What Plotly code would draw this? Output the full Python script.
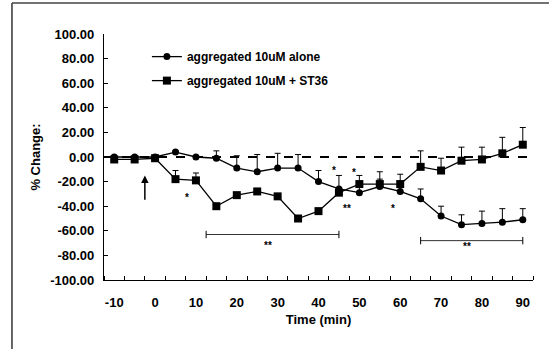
import plotly.graph_objects as go

# Time points (min) and % change for each condition
times = [-10, -5, 0, 5, 10, 15, 20, 25, 30, 35, 40, 45, 50, 55, 60, 65, 70, 75, 80, 85, 90]
alone = [0, 0, 0, 4, 0, -1, -9, -12, -9, -9, -20, -26, -29, -24, -28, -34, -48, -55, -54, -53, -51]
alone_err = [1, 1, 0, 1, 1, 6, 10, 14, 12, 11, 9, 11, 5, 6, 5, 8, 8, 8, 10, 11, 9]
st36 = [-2, -2, -1, -18, -19, -40, -31, -28, -32, -50, -44, -29, -22, -22, -22, -8, -11, -3, -2, 3, 10]
st36_err = [1, 1, 0, 7, 6, 2, 2, 2, 2, 2, 2, 3, 7, 10, 8, 13, 10, 11, 10, 13, 14]

series_names = ["aggregated 10uM alone", "aggregated 10uM + ST36"]

x_ticks = [-10, 0, 10, 20, 30, 40, 50, 60, 70, 80, 90]
x_tick_labels = ["-10", "0", "10", "20", "30", "40", "50", "60", "70", "80", "90"]
y_ticks = [100, 80, 60, 40, 20, 0, -20, -40, -60, -80, -100]
y_tick_labels = ["100.00", "80.00", "60.00", "40.00", "20.00", "0.00",
                 "-20.00", "-40.00", "-60.00", "-80.00", "-100.00"]

# Significance marks: (time, value, text)
sig_marks = [(7.8, -33, "*"), (27.6, -72, "**"), (43.7, -11, "*"), (48.8, -13, "*"),
             (47, -42, "**"), (58.3, -42, "*"), (76.3, -73, "**")]
# Brackets: (start, end, level)
brackets = [(12.5, 45, -63), (65, 90, -68)]

FONT = "Liberation Sans Narrow, Arial Narrow, Liberation Sans, sans-serif"

fig = go.Figure()

fig.add_trace(go.Scatter(
    x=times, y=alone, name=series_names[0], mode="lines+markers",
    line=dict(color="black", width=1.3),
    marker=dict(symbol="circle", size=7, color="black"),
    error_y=dict(type="data", symmetric=False, array=alone_err,
                 arrayminus=[0] * len(alone_err), color="black", thickness=1, width=3),
    legendgroup="a",
))
fig.add_trace(go.Scatter(
    x=times, y=st36, name=series_names[1], mode="lines+markers",
    line=dict(color="black", width=1.3),
    marker=dict(symbol="square", size=8, color="black"),
    error_y=dict(type="data", symmetric=False, array=st36_err,
                 arrayminus=[0] * len(st36_err), color="black", thickness=1, width=3),
    legendgroup="b",
))

shapes = [
    # zero reference line
    dict(type="line", xref="x", yref="y", x0=-12.5, x1=92.5, y0=0, y1=0,
         line=dict(color="black", width=2, dash="dash"), layer="below"),
    # outer frame (left and top edges)
    dict(type="line", xref="paper", yref="paper", x0=-0.2145, x1=-0.2145, y0=1.126, y1=-0.3,
         line=dict(color="black", width=1.2)),
    dict(type="line", xref="paper", yref="paper", x0=-0.2145, x1=1.05, y0=1.126, y1=1.126,
         line=dict(color="#444", width=1.5)),
]
for x0, x1, yv in brackets:
    shapes.append(dict(type="line", xref="x", yref="y", x0=x0, x1=x1, y0=yv, y1=yv,
                       line=dict(color="#333", width=1)))
    for xe in (x0, x1):
        shapes.append(dict(type="line", xref="x", yref="y", x0=xe, x1=xe, y0=yv - 3, y1=yv + 3,
                           line=dict(color="black", width=1)))

annotations = [dict(x=x, y=y, text=t, showarrow=False, xref="x", yref="y",
                    font=dict(family=FONT, size=10, color="black"))
               for x, y, t in sig_marks]
# stimulation onset arrow
annotations.append(dict(x=-2.5, y=-15, ax=-2.5, ay=-36, xref="x", yref="y",
                        axref="x", ayref="y", text="", showarrow=True,
                        arrowhead=2, arrowsize=1, arrowwidth=1.5, arrowcolor="black"))

fig.update_layout(
    width=549, height=349,
    margin=dict(l=104, r=16, t=34, b=69),
    paper_bgcolor="white", plot_bgcolor="white",
    font=dict(family=FONT, size=13, color="black", weight="bold"),
    showlegend=True,
    legend=dict(x=0.1, y=0.967, xanchor="left", yanchor="top",
                bgcolor="rgba(0,0,0,0)", tracegroupgap=5,
                font=dict(family=FONT, size=12, color="black", weight="bold")),
    shapes=shapes,
    annotations=annotations,
    xaxis=dict(
        range=[-12.5, 92.5], showgrid=False, zeroline=False,
        showline=True, linecolor="black", linewidth=1.2,
        tickmode="array", tickvals=x_ticks, ticktext=x_tick_labels, ticks="",
        ticklabelstandoff=10,
        minor=dict(tick0=-12.5, dtick=5, ticks="inside", ticklen=4,
                   tickcolor="black", showgrid=False),
        title=dict(text="Time (min)", standoff=6,
                   font=dict(family=FONT, size=13, color="black", weight="bold")),
    ),
    yaxis=dict(
        range=[-100, 100], showgrid=False, zeroline=False,
        showline=True, linecolor="black", linewidth=1.2,
        tickmode="array", tickvals=y_ticks, ticktext=y_tick_labels,
        ticks="inside", ticklen=4, tickcolor="black",
        ticklabelstandoff=6,
        title=dict(text="% Change:", standoff=6,
                   font=dict(family="Liberation Sans, Arial, sans-serif", size=13,
                             color="black", weight="bold")),
    ),
)

fig.write_html("out.html")
